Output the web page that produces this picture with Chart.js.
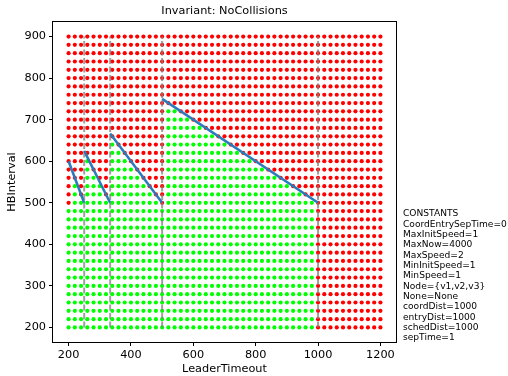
<!DOCTYPE html>
<html>
<head>
<meta charset="utf-8">
<script src="https://cdn.jsdelivr.net/npm/chart.js@4.4.1/dist/chart.umd.min.js"></script>
<style>
  html, body { margin: 0; padding: 0; background: #fff; }
  canvas { display: block; }
</style>
</head>
<body>
<canvas id="grafico" width="508" height="376"></canvas>
<script>
// Griglia dei parametri esplorati
const leaderTimeout = [200, 220, 240, 260, 280, 300, 320, 340, 360, 380, 400, 420, 440, 460, 480, 500,
  520, 540, 560, 580, 600, 620, 640, 660, 680, 700, 720, 740, 760, 780, 800, 820, 840, 860, 880, 900,
  920, 940, 960, 980, 1000, 1020, 1040, 1060, 1080, 1100, 1120, 1140, 1160, 1180, 1200];
const hbInterval = [200, 220, 240, 260, 280, 300, 320, 340, 360, 380, 400, 420, 440, 460, 480, 500,
  520, 540, 560, 580, 600, 620, 640, 660, 680, 700, 720, 740, 760, 780, 800, 820, 840, 860, 880, 900];

// HBInterval massimo senza collisioni per ogni LeaderTimeout (null = nessuno)
const maxSafeHB = [480, 540, 500, 600, 560, 540, 500, 640, 620, 600, 580, 560, 540, 520, 500, 480,
  720, 720, 700, 700, 680, 680, 660, 660, 640, 640, 620, 620, 600, 600, 580, 580, 560, 560, 540, 540,
  520, 520, 500, 500, null, null, null, null, null, null, null, null, null, null, null];

// Segmenti di confine (blu) e separatori tratteggiati
const segLT = [[200, 250], [250, 333.3], [333.3, 500], [500, 1000]];
const segHB = [[600, 500], [625, 500], [666.7, 500], [750, 500]];
const splitLT = [250, 333.3, 500, 1000];
const splitHB = [200, 900];

const xTicks = [200, 400, 600, 800, 1000, 1200];
const yTicks = [200, 300, 400, 500, 600, 700, 800, 900];

const costanti = ['CONSTANTS', 'CoordEntrySepTime=0', 'MaxInitSpeed=1', 'MaxNow=4000', 'MaxSpeed=2',
  'MinInitSpeed=1', 'MinSpeed=1', 'Node={v1,v2,v3}', 'None=None', 'coordDist=1000',
  'entryDist=1000', 'schedDist=1000', 'sepTime=1'];

const FONT = '"DejaVu Sans", sans-serif';

// punti verdi / rossi
const verdi = [];
const rossi = [];
leaderTimeout.forEach((lt, i) => {
  hbInterval.forEach(hb => {
    const ok = maxSafeHB[i] !== null && hb <= maxSafeHB[i];
    (ok ? verdi : rossi).push({ x: lt, y: hb });
  });
});

const datasets = [];

segLT.forEach((xs, i) => {
  datasets.push({
    data: [{ x: xs[0], y: segHB[i][0] }, { x: xs[1], y: segHB[i][1] }],
    showLine: true,
    borderColor: '#2b7bba',
    borderWidth: 2.5,
    pointRadius: 0,
    fill: false
  });
});

splitLT.forEach(lt => {
  datasets.push({
    data: [{ x: lt, y: splitHB[0] }, { x: lt, y: splitHB[1] }],
    showLine: true,
    borderColor: 'rgba(128,128,128,0.75)',
    borderWidth: 2,
    borderDash: [6, 2.5],
    pointRadius: 0,
    fill: false
  });
});

datasets.push({ data: verdi, backgroundColor: '#00ff00', pointRadius: 2.1, borderWidth: 0 });
datasets.push({ data: rossi, backgroundColor: '#ff0000', pointRadius: 2.1, borderWidth: 0 });

// cornice, titolo e costanti
const decorazioni = {
  id: 'decorazioni',
  afterDraw(chart) {
    const { ctx, chartArea: a } = chart;
    ctx.save();
    ctx.strokeStyle = '#000';
    ctx.lineWidth = 1;
    ctx.strokeRect(Math.round(a.left) - 0.5, Math.round(a.top) - 0.5,
      Math.round(a.right - a.left) + 1, Math.round(a.bottom - a.top) + 1);
    ctx.fillStyle = '#000';
    ctx.textAlign = 'center';
    ctx.textBaseline = 'middle';
    ctx.font = '11.3px ' + FONT;
    ctx.fillText('Invariant: NoCollisions', (a.left + a.right) / 2, 11);
    ctx.textAlign = 'left';
    ctx.font = '9.1px ' + FONT;
    costanti.forEach((t, i) => ctx.fillText(t, 403, 214 + i * 10.33));
    ctx.restore();
  }
};

const tickFont = { family: FONT, size: 11.3 };

new Chart(document.getElementById('grafico'), {
  type: 'scatter',
  data: { datasets },
  options: {
    responsive: false,
    animation: false,
    devicePixelRatio: 1,
    layout: { padding: { left: 0, right: 112, top: 22, bottom: 0 } },
    plugins: { legend: { display: false }, tooltip: { enabled: false }, title: { display: false } },
    scales: {
      x: {
        type: 'linear',
        min: 150,
        max: 1250,
        afterBuildTicks: s => { s.ticks = xTicks.map(v => ({ value: v })); },
        afterFit: s => { s.height = 34; },
        grid: { drawOnChartArea: false, drawTicks: true, tickLength: 4, color: '#000' },
        border: { display: false },
        ticks: { font: tickFont, color: '#000', padding: 2, maxRotation: 0, callback: v => String(v) },
        title: { display: true, text: 'LeaderTimeout', font: tickFont, color: '#000', padding: 0 }
      },
      y: {
        type: 'linear',
        min: 165,
        max: 935,
        afterBuildTicks: s => { s.ticks = yTicks.map(v => ({ value: v })); },
        afterFit: s => { s.width = 53; },
        grid: { drawOnChartArea: false, drawTicks: true, tickLength: 4, color: '#000' },
        border: { display: false },
        ticks: { font: tickFont, color: '#000', padding: 3, callback: v => String(v) },
        title: { display: true, text: 'HBInterval', font: tickFont, color: '#000', padding: { top: 5, bottom: 0 } }
      }
    }
  },
  plugins: [decorazioni]
});
</script>
</body>
</html>
